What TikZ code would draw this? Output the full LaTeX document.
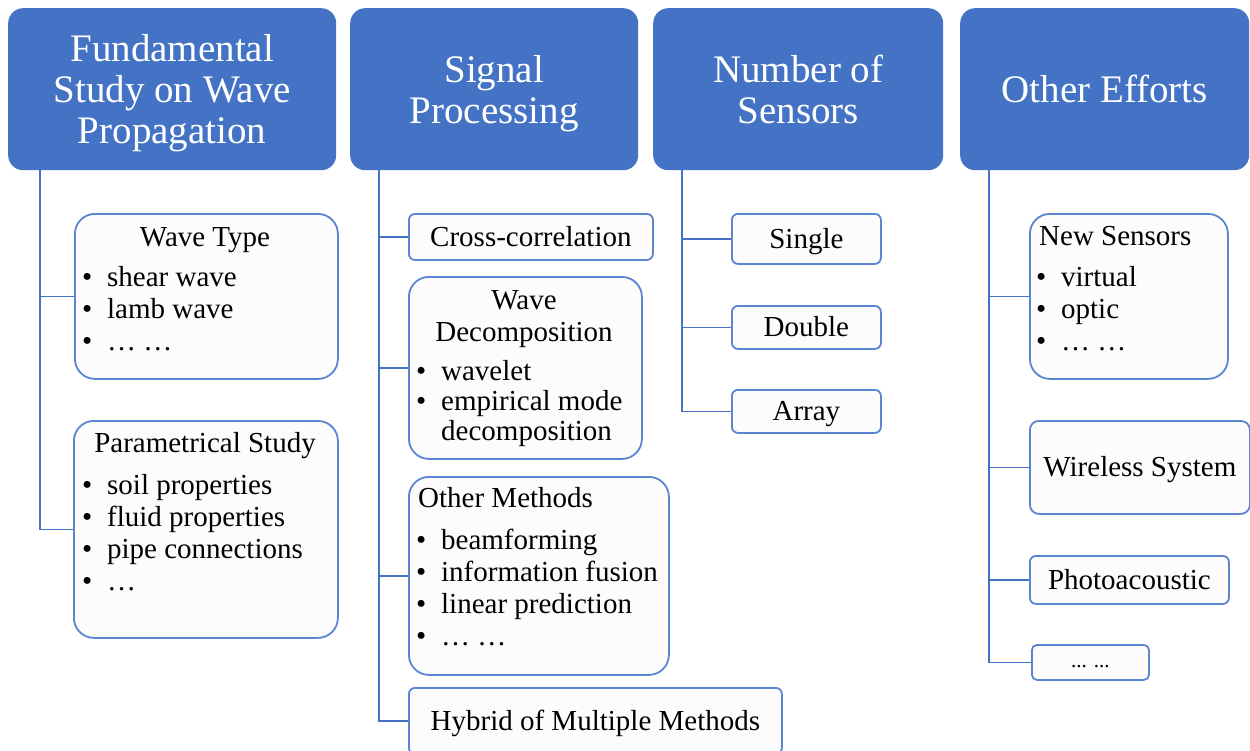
\documentclass[tikz,border=0pt]{standalone}
\usepackage{fontspec}
\setmainfont{Liberation Serif}
\definecolor{hdrblue}{HTML}{4472C4}
\definecolor{edgeblue}{HTML}{5A85D1}
\definecolor{linkblue}{HTML}{4472C4}
\definecolor{boxfill}{HTML}{FCFCFC}
% bullet item with a fixed hanging indent
\newcommand\blt[1]{\makebox[25pt][l]{•}#1}
\begin{document}
\begin{tikzpicture}[x=1pt,y=-1pt,
  header/.style={fill=hdrblue, draw=none, rounded corners=15pt, anchor=north west,
    inner sep=0pt, text=white, align=center, text depth=0pt,
    font=\fontsize{39}{41}\selectfont},
  card/.style={fill=boxfill, draw=edgeblue, line width=1.8pt, anchor=north west,
    inner sep=0pt, font=\fontsize{29}{32}\selectfont, text height=20pt, text depth=1pt},
  ttl/.style={inner sep=0pt, anchor=base, font=\fontsize{29}{32}\selectfont},
  lst/.style={inner sep=0pt, align=left, anchor=base west, font=\fontsize{29}{32}\selectfont},
  link/.style={draw=linkblue, line width=1.8pt}
]
\useasboundingbox (0,0) rectangle (1250,750);

% ---- headers
\node[header, minimum width=328pt, minimum height=162pt] (h1) at (8,8) {Fundamental\\Study on Wave\\Propagation};
\node[header, minimum width=288pt, minimum height=162pt] (h2) at (350,8) {Signal\\Processing};
\node[header, minimum width=290pt, minimum height=162pt] (h3) at (653,8) {Number of\\Sensors};
\node[header, minimum width=289pt, minimum height=162pt] (h4) at (960,8) {Other Efforts};

% ---- column 1: wave propagation
% (list nodes are placed by the baseline of their last line)
\node[card, rounded corners=20pt, minimum width=263pt, minimum height=165pt] (wt) at (74,213) {};
\node[ttl] (wt-t) at (205,246) {Wave Type};
\node[lst] (wt-l) at (82,350) {\blt{shear wave}\\\blt{lamb wave}\\\blt{… …}};

\node[card, rounded corners=20pt, minimum width=264pt, minimum height=217pt] (ps) at (73,420) {};
\node[ttl] (ps-t) at (205,452) {Parametrical Study};
\node[lst] (ps-l) at (82,590) {\blt{soil properties}\\\blt{fluid properties}\\\blt{pipe connections}\\\blt{…}};

\coordinate (t1) at ([xshift=32pt]h1.south west);
\draw[link] (t1) |- (wt.west);
\draw[link] (t1) |- (ps.west);

% ---- column 2: signal processing
\node[card, rounded corners=6pt, minimum width=244pt, minimum height=46pt] (cc) at (408,213) {Cross-correlation};

\node[card, rounded corners=20pt, minimum width=233pt, minimum height=182pt] (wd) at (408,276) {};
\node[ttl] (wd-t1) at (524,309) {Wave};
\node[ttl] (wd-t2) at (524,341) {Decomposition};
\node[lst, font=\fontsize{29}{30}\selectfont] (wd-l) at (416,440) {\blt{wavelet}\\\blt{empirical mode}\\\hspace*{25pt}decomposition};

\node[card, rounded corners=20pt, minimum width=260pt, minimum height=198pt] (om) at (408,476) {};
\node[ttl, anchor=base west] (om-t) at (418,507) {Other Methods};
\node[lst] (om-l) at (416,645) {\blt{beamforming}\\\blt{information fusion}\\\blt{linear prediction}\\\blt{… …}};

\node[card, rounded corners=6pt, minimum width=373pt, minimum height=66pt] (hy) at (408,687) {Hybrid of Multiple Methods};

\coordinate (t2) at ([xshift=29pt]h2.south west);
\draw[link] (t2) |- (cc.west);
\draw[link] (t2) |- (wd.west);
\draw[link] (t2) |- (om.west);
\draw[link] (t2) |- (hy.west);

% ---- column 3: number of sensors
\node[card, rounded corners=6pt, minimum width=149pt, minimum height=50pt] (sg) at (731,213) {Single};
\node[card, rounded corners=6pt, minimum width=149pt, minimum height=43pt] (db) at (731,305) {Double};
\node[card, rounded corners=6pt, minimum width=149pt, minimum height=43pt] (ar) at (731,389) {Array};

\coordinate (t3) at ([xshift=29pt]h3.south west);
\draw[link] (t3) |- (sg.west);
\draw[link] (t3) |- (db.west);
\draw[link] (t3) |- (ar.west);

% ---- column 4: other efforts
\node[card, rounded corners=20pt, minimum width=198pt, minimum height=165pt] (ns) at (1029,213) {};
\node[ttl, anchor=base west] (ns-t) at (1039,245) {New Sensors};
\node[lst] (ns-l) at (1036,350) {\blt{virtual}\\\blt{optic}\\\blt{… …}};

\node[card, rounded corners=9pt, minimum width=220pt, minimum height=93pt] (ws) at (1029,420) {Wireless System};
\node[card, rounded corners=6pt, minimum width=199pt, minimum height=48pt] (ph) at (1029,555) {Photoacoustic};
\node[card, rounded corners=5pt, minimum width=117pt, minimum height=35pt,
  font=\fontsize{21}{24}\selectfont, text height=14pt, text depth=4pt] (dd) at (1031,644) {... ...};

\coordinate (t4) at ([xshift=29pt]h4.south west);
\draw[link] (t4) |- (ns.west);
\draw[link] (t4) |- (ws.west);
\draw[link] (t4) |- (ph.west);
\draw[link] (t4) |- (dd.west);
\end{tikzpicture}
\end{document}
